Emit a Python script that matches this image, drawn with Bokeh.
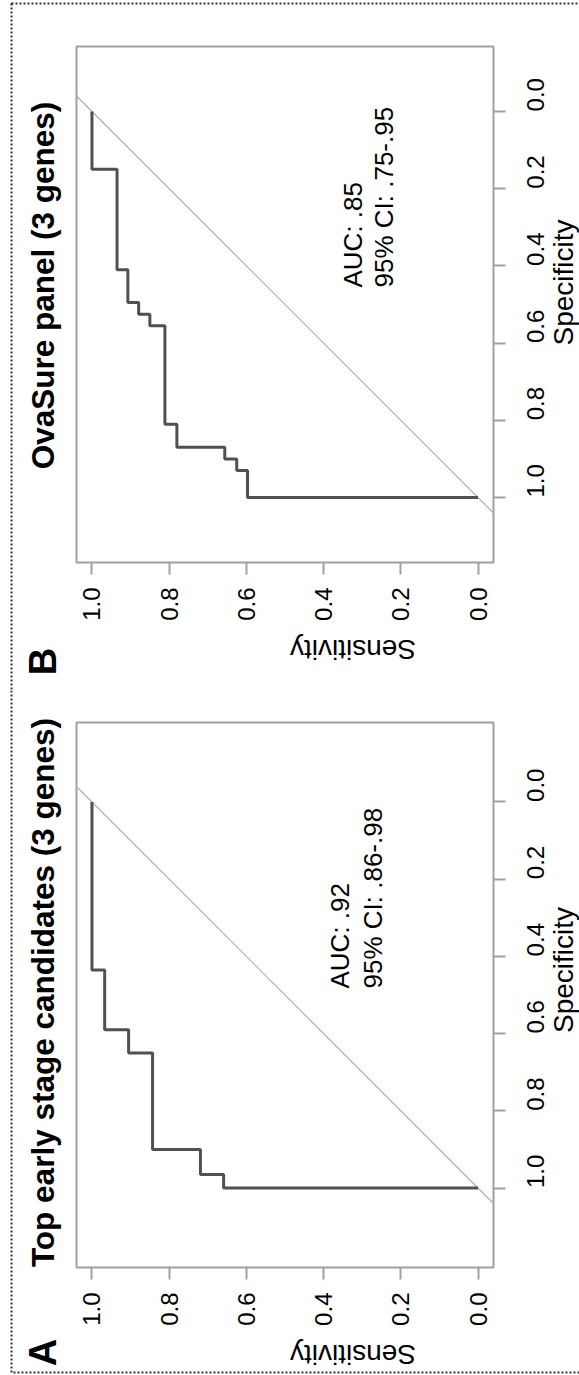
import math
from bokeh.plotting import figure
from bokeh.models import Range1d, FixedTicker, NumeralTickFormatter, Label
from bokeh.layouts import column
from bokeh.embed import file_html
from bokeh.resources import INLINE

# ---------------- data ----------------
tick_values = [0.0, 0.2, 0.4, 0.6, 0.8, 1.0]
x_label = "Sensitivity"
y_label = "Specificity"

a_letter = "A"
a_title = "Top early stage candidates (3 genes)"
a_specificity = [0.00, 0.435, 0.435, 0.59, 0.59, 0.65, 0.65, 0.90, 0.90, 0.965, 0.965, 1.00, 1.00]
a_sensitivity = [1.00, 1.00, 0.967, 0.967, 0.905, 0.905, 0.843, 0.843, 0.719, 0.719, 0.659, 0.659, 0.00]
a_auc = "AUC: .92"
a_ci = "95% CI: .86-.98"

b_letter = "B"
b_title = "OvaSure panel (3 genes)"
b_specificity = [0.00, 0.15, 0.15, 0.41, 0.41, 0.495, 0.495, 0.525, 0.525, 0.555, 0.555,
                 0.81, 0.81, 0.87, 0.87, 0.90, 0.90, 0.93, 0.93, 1.00, 1.00]
b_sensitivity = [1.00, 1.00, 0.935, 0.935, 0.907, 0.907, 0.879, 0.879, 0.850, 0.850, 0.811,
                 0.811, 0.780, 0.780, 0.656, 0.656, 0.625, 0.625, 0.597, 0.597, 0.00]
b_auc = "AUC: .85"
b_ci = "95% CI: .75-.95"

# ---------------- style ----------------
FONT = "Liberation Sans"
PX = 386.1          # pixels per unit (asp = 1)
FRAME_L, FRAME_R = 76, 493
WIDTH = 579
GRAY = "#a0a0a0"


def make_panel(letter, title, spec, sens, auc, ci, height, frame_top, frame_bottom,
               title_y, letter_y, text_y, auc_x, ci_x, border_top, border_bottom):
    pad = ((frame_bottom - frame_top) / PX - 1) / 2
    xpad = ((FRAME_R - FRAME_L) / PX - 1) / 2

    def sens_at(px):
        return 1 + xpad - (px - FRAME_L) / PX

    def spec_at(py):
        return -pad + (py - frame_top) / PX

    p = figure(width=WIDTH, height=height, output_backend="svg", toolbar_location=None,
               x_range=Range1d(sens_at(0), sens_at(WIDTH)),
               y_range=Range1d(spec_at(height), spec_at(0)),
               y_axis_location="right",
               min_border_left=0, min_border_right=0, min_border_top=0, min_border_bottom=0,
               background_fill_color="white", border_fill_color="white",
               outline_line_color=None)
    p.grid.visible = False
    for ax in (p.xaxis[0], p.yaxis[0]):
        ax.ticker = FixedTicker(ticks=tick_values)
        ax.formatter = NumeralTickFormatter(format="0.0")
        ax.axis_line_color = None
        ax.major_tick_in = 0
        ax.major_tick_out = 12
        ax.major_tick_line_color = GRAY
        ax.major_tick_line_width = 2
        ax.minor_tick_line_color = None
        ax.major_label_orientation = math.pi / 2
        ax.major_label_text_font = FONT
        ax.major_label_text_font_size = "24px"
        ax.major_label_text_color = "black"
        ax.axis_label_text_font = FONT
        ax.axis_label_text_font_size = "28px"
        ax.axis_label_text_font_style = "normal"
        ax.axis_label_text_color = "black"
    p.xaxis.fixed_location = 1 + pad
    p.yaxis.fixed_location = -xpad
    p.xaxis.axis_label = x_label
    p.xaxis.major_label_standoff = 13
    p.xaxis.axis_label_standoff = 26
    p.xaxis.axis_label_orientation = math.pi
    p.yaxis.axis_label = y_label
    p.yaxis.major_label_standoff = 30
    p.yaxis.axis_label_standoff = 8
    p.yaxis.axis_label_orientation = math.pi / 2

    # outer dotted border of the figure
    p.quad(left=sens_at(11), right=sens_at(WIDTH + 30), top=spec_at(border_top),
           bottom=spec_at(border_bottom), fill_color=None, line_color="#333333",
           line_width=2, line_dash="2 2")
    # plot box
    p.quad(left=1 + xpad, right=-xpad, top=-pad, bottom=1 + pad,
           fill_color=None, line_color=GRAY, line_width=2)
    # chance diagonal, inside the box
    p.line([1 + xpad, -xpad], [-xpad, 1 + xpad], line_color="#b0b0b0", line_width=1.2)
    # ROC curve
    p.line(sens, spec, line_color="#505050", line_width=3)

    p.add_layout(Label(x=sens_at(42), y=spec_at(title_y), text=title, angle=math.pi / 2,
                       text_align="center", text_baseline="middle",
                       text_font=FONT, text_font_size="31.5px", text_font_style="bold",
                       text_color="black"))
    p.add_layout(Label(x=sens_at(42), y=spec_at(letter_y), text=letter, angle=math.pi / 2,
                       text_align="center", text_baseline="middle",
                       text_font=FONT, text_font_size="38px", text_font_style="bold",
                       text_color="black"))
    for txt, bx in ((auc, auc_x), (ci, ci_x)):
        p.add_layout(Label(x=sens_at(bx), y=spec_at(text_y), text=txt, angle=math.pi / 2,
                           text_align="left", text_baseline="middle",
                           text_font=FONT, text_font_size="26px", text_color="black"))
    return p


pB = make_panel(b_letter, b_title, b_specificity, b_sensitivity, b_auc, b_ci,
                height=690, frame_top=46, frame_bottom=562,
                title_y=285, letter_y=661, text_y=287, auc_x=352, ci_x=383,
                border_top=3, border_bottom=720)
pA = make_panel(a_letter, a_title, a_specificity, a_sensitivity, a_auc, a_ci,
                height=685, frame_top=32, frame_bottom=577,
                title_y=302, letter_y=662, text_y=298, auc_x=339, ci_x=372,
                border_top=-30, border_bottom=682)

layout = column(pB, pA, spacing=0)
open("out.html", "w").write(file_html(layout, INLINE))
